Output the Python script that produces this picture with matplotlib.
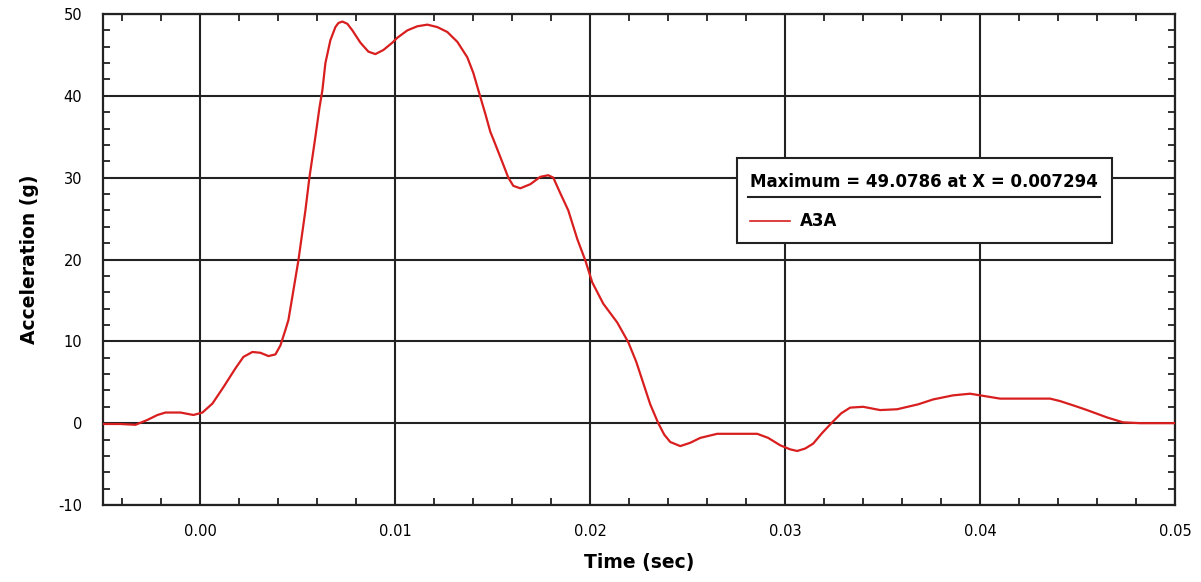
import matplotlib
matplotlib.use("Agg")
import matplotlib.pyplot as plt
from matplotlib.ticker import MultipleLocator, FormatStrFormatter
from matplotlib.patches import Rectangle
from matplotlib.lines import Line2D

plt.rcParams["axes.unicode_minus"] = False

# curve: x in pixel columns (converted below), acceleration in g
t_px = [103, 120, 135, 147, 157, 165, 180, 193, 202, 212, 223, 235, 243, 252,
        260, 268, 275, 280, 285, 288, 292, 298, 305, 309, 315, 319, 322, 325,
        330, 335, 338, 342, 347, 352, 360, 368, 375, 383, 392, 397, 407, 417,
        427, 437, 447, 457, 467, 473, 478, 485, 490, 493, 502, 508, 513, 520,
        530, 540, 548, 553, 560, 568, 577, 585, 592, 603, 617, 628, 636, 643,
        650, 658, 664, 670, 680, 690, 700, 717, 737, 757, 768, 780, 790, 797,
        805, 813, 822, 832, 841, 850, 863, 880, 897, 918, 933, 953, 970, 980,
        1000, 1050, 1060, 1075, 1087, 1107, 1123, 1140, 1175]
accel = [-0.1, -0.1, -0.2, 0.4, 1.0, 1.3, 1.3, 1.0, 1.3, 2.4, 4.4, 6.7, 8.1, 8.7,
         8.6, 8.2, 8.4, 9.5, 11.4, 12.6, 15.5, 19.9, 26.0, 30.0, 35.0, 38.5, 40.7,
         44.0, 46.8, 48.4, 48.9, 49.08, 48.8, 48.0, 46.5, 45.4, 45.1, 45.6, 46.5,
         47.1, 48.0, 48.5, 48.7, 48.4, 47.8, 46.6, 44.7, 42.8, 40.7, 37.8, 35.6,
         34.7, 31.9, 30.0, 29.0, 28.7, 29.2, 30.1, 30.3, 30.0, 28.1, 26.0, 22.5,
         19.9, 17.2, 14.6, 12.3, 9.9, 7.5, 4.9, 2.3, 0.0, -1.4, -2.3, -2.8, -2.4,
         -1.8, -1.3, -1.3, -1.3, -1.8, -2.7, -3.2, -3.4, -3.1, -2.5, -1.2, 0.1,
         1.2, 1.9, 2.0, 1.6, 1.7, 2.3, 2.9, 3.4, 3.6, 3.4, 3.0, 3.0, 2.7, 2.1,
         1.6, 0.7, 0.1, 0.0, 0.0]
time = [(p - 200) / 19500.0 for p in t_px]

legend_title = "Maximum = 49.0786 at X = 0.007294"
series_name = "A3A"

fig = plt.figure(figsize=(12.01, 5.82), dpi=100)
ax = fig.add_axes([103 / 1201, 1 - 505 / 582, 1072 / 1201, 491 / 582])

ax.plot(time, accel, color="#d81e1e", lw=1.6, zorder=3,
        solid_joinstyle="round")

ax.set_xlim(-0.005, 0.05)
ax.set_ylim(-10, 50)
ax.xaxis.set_major_locator(MultipleLocator(0.01))
ax.xaxis.set_minor_locator(MultipleLocator(0.002))
ax.yaxis.set_major_locator(MultipleLocator(10))
ax.yaxis.set_minor_locator(MultipleLocator(2))
ax.xaxis.set_major_formatter(FormatStrFormatter("%.2f"))
ax.grid(True, which="major", color="#222222", lw=1.5)
ax.tick_params(which="both", direction="in", top=True, right=True,
               color="#222222", width=1.3)
ax.tick_params(which="major", length=0, labelsize=10.5)
ax.tick_params(axis="x", which="major", pad=14)
ax.tick_params(axis="y", which="major", pad=15)
ax.tick_params(which="minor", length=5)
for s in ax.spines.values():
    s.set_linewidth(1.6)
    s.set_color("#222222")

ax.set_xlabel("Time (sec)", fontsize=13.5, fontweight="bold", labelpad=10)
ax.set_ylabel("Acceleration (g)", fontsize=13.5, fontweight="bold", labelpad=14)

# legend box
x0, y0 = (737 - 103) / 1072, (505 - 243) / 491
w, h = (1112 - 737) / 1072, (243 - 158) / 491
ax.add_patch(Rectangle((x0, y0), w, h, transform=ax.transAxes, fc="white",
                       ec="#222222", lw=1.5, zorder=5))
ax.text((924 - 103) / 1072, (505 - 182) / 491, legend_title, transform=ax.transAxes,
        ha="center", va="center", fontsize=12, fontweight="bold", zorder=6)
ax.add_line(Line2D([(748 - 103) / 1072, (1100 - 103) / 1072],
                   [(505 - 197) / 491] * 2, transform=ax.transAxes,
                   color="#222222", lw=1.5, zorder=6))
ax.add_line(Line2D([(750 - 103) / 1072, (790 - 103) / 1072],
                   [(505 - 221) / 491] * 2, transform=ax.transAxes,
                   color="#d81e1e", lw=1.2, zorder=6))
ax.text((800 - 103) / 1072, (505 - 221) / 491, series_name, transform=ax.transAxes,
        ha="left", va="center", fontsize=12, fontweight="bold", zorder=6)

fig.savefig("out.png", dpi=100)
